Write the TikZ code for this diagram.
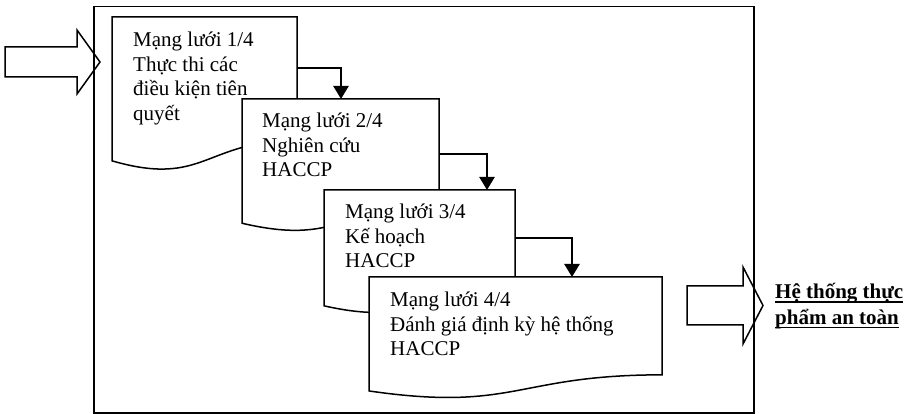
\documentclass[tikz,border=0pt]{standalone}
\usepackage{fontspec}
\setmainfont{Liberation Serif}
\usetikzlibrary{calc,arrows.meta}

% underline at a fixed depth below the baseline
\newcommand\ulbar[1]{\setbox0\hbox{#1}\rlap{\rule[-3.5pt]{\wd0}{1.4pt}}\box0}
% left-aligned lines whose reference point is the first baseline
\newcommand\linestack[1]{\vtop{\halign{##\hfil\cr#1\crcr}}}

\tikzset{
  outline/.style={draw, line width=1.5pt, line join=miter},
  docframe/.style={outline, fill=white},
  boxarea/.style={draw=none, inner sep=0pt, outer sep=0pt, anchor=north west},
  flow/.style={line width=2.5pt, -{Triangle[width=15pt,length=13pt]}},
  boxtext/.style={anchor=base west, inner sep=0pt,
    font=\fontsize{21}{24.5}\selectfont},
  resulttext/.style={anchor=base west, inner sep=0pt,
    font=\fontsize{21}{26}\selectfont\bfseries},
}

% flowchart "document" outline built on the anchors of a box node
\newcommand\docshape[1]{%
  \path[docframe] (#1.north west) -- (#1.north east)
    -- ($(#1.north east)!0.802!(#1.south east)$)
    .. controls ($(#1.north)!0.802!(#1.south)$) and ($(#1.north)!1.108!(#1.south)$)
    .. ($(#1.north west)!0.934!(#1.south west)$) -- cycle;}

\begin{document}
\begin{tikzpicture}[x=1pt, y=-1pt]
\useasboundingbox (0,0) rectangle (911,414);

% surrounding frame
\node[outline, inner sep=0pt, minimum width=660pt, minimum height=406pt, anchor=north west] (frame) at (93,6) {};

% input arrow
\draw[outline] (5,47) -- (77,47) -- (77,30) -- (100,62) -- (77,94) -- (77,77) -- (5,77) -- cycle;

% stage 1
\node[boxarea, minimum width=185pt, minimum height=154pt] (m1) at (112,17) {};
\docshape{m1}
\node[boxtext] (t1) at ([xshift=21pt, yshift=-30pt]m1.north west)
  {\linestack{Mạng lưới 1/4\cr Thực thi các\cr điều kiện tiên\cr quyết}};

% stage 2
\node[boxarea, minimum width=197pt, minimum height=133pt] (m2) at (242,99) {};
\docshape{m2}
\node[boxtext] (t2) at ([xshift=20pt, yshift=-29pt]m2.north west)
  {\linestack{Mạng lưới 2/4\cr Nghiên cứu\cr HACCP}};

% stage 3
\node[boxarea, minimum width=191pt, minimum height=124pt] (m3) at (324,190) {};
\docshape{m3}
\node[boxtext] (t3) at ([xshift=21pt, yshift=-29pt]m3.north west)
  {\linestack{Mạng lưới 3/4\cr Kế hoạch\cr HACCP}};

% stage 4
\node[boxarea, minimum width=293pt, minimum height=122pt] (m4) at (369,277) {};
\docshape{m4}
\node[boxtext] (t4) at ([xshift=21pt, yshift=-30pt]m4.north west)
  {\linestack{Mạng lưới 4/4\cr Đánh giá định kỳ hệ thống\cr HACCP}};

% step connectors
\draw[flow] ([yshift=-51pt]m1.north east) -| ([xshift=99pt]m2.north west);
\draw[flow] ([yshift=-55pt]m2.north east) -| ([xshift=163pt]m3.north west);
\draw[flow] ([yshift=-48pt]m3.north east) -| ([xshift=203pt]m4.north west);

% output arrow and result
\draw[outline] (687,286) -- (743,286) -- (743,267) -- (763,305.5) -- (743,344) -- (743,325) -- (687,325) -- cycle;
\node[resulttext] (result) at (775,299) {\linestack{\ulbar{Hệ thống thực}\cr\ulbar{phẩm an toàn}}};
\end{tikzpicture}
\end{document}
